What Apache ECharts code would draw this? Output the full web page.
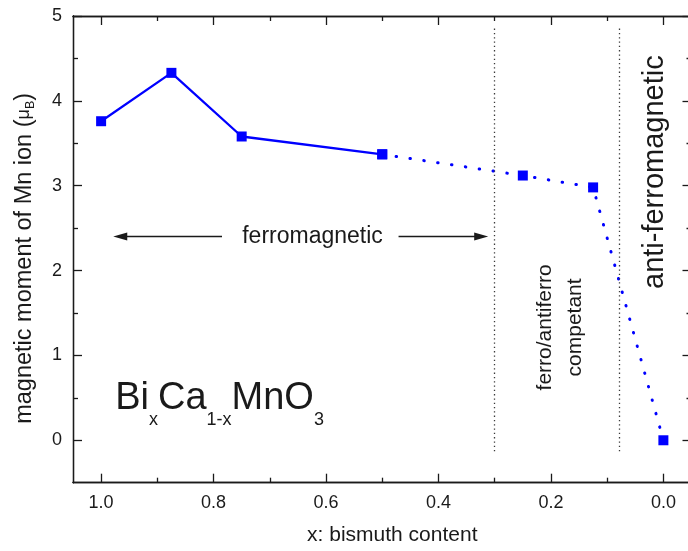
<!DOCTYPE html>
<html>
<head>
<meta charset="utf-8">
<script src="https://cdn.jsdelivr.net/npm/echarts@6/dist/echarts.min.js"></script>
<style>
  html, body { margin: 0; background: #fff; }
  #main { width: 688px; height: 551px; }
</style>
</head>
<body>
<div id="main"></div>
<script>
// Bi content x and Mn moment (mu_B)
const bismuth = [1.0, 0.875, 0.75, 0.5, 0.25, 0.125, 0.0];
const moment = [3.76, 4.33, 3.58, 3.37, 3.12, 2.98, 0.0];
const solidCount = 4; // first 4 points joined by a solid line, the rest dotted

const xTicks = [0, 0.2, 0.4, 0.6, 0.8, 1.0];
const xMinorTicks = [0.1, 0.3, 0.5, 0.7, 0.9];
const yTicks = [0, 1, 2, 3, 4, 5];
const yMinorTicks = [0.5, 1.5, 2.5, 3.5, 4.5];

// phase borders (dotted verticals) and their extent in y
const phaseBorders = [0.3, 0.078];
const borderSpan = [-0.13, 4.87];

// ferromagnetic arrows: [from, to] in x, at y = arrowY
const arrowY = 2.4;
const arrowLeft = [0.785, 0.966];
const arrowRight = [0.471, 0.324];

const FONT = "'Liberation Sans', Arial, sans-serif";
const INK = "#1a1a1a";
const BLUE = "#0000ff";

const pts = bismuth.map((x, i) => [x, moment[i]]);

function xAxis(position, ticks, len, labels) {
  return {
    type: "value",
    position: position,
    min: -0.05,
    max: 1.05,
    inverse: true,
    splitLine: { show: false },
    axisLine: { show: true, onZero: false, lineStyle: { color: INK, width: 1.3 } },
    axisTick: { show: true, inside: true, length: len, customValues: ticks, lineStyle: { color: INK, width: 1.3 } },
    axisLabel: labels
      ? { show: true, customValues: ticks, margin: 11, formatter: (v) => v.toFixed(1), fontFamily: FONT, fontSize: 18, color: INK }
      : { show: false },
  };
}

function yAxis(position, ticks, len, labels) {
  return {
    type: "value",
    position: position,
    min: -0.5,
    max: 5,
    splitLine: { show: false },
    axisLine: { show: true, onZero: false, lineStyle: { color: INK, width: 1.3 } },
    axisTick: { show: true, inside: true, length: len, customValues: ticks, lineStyle: { color: INK, width: 1.3 } },
    axisLabel: labels
      ? { show: true, customValues: ticks, margin: 11, fontFamily: FONT, fontSize: 18, color: INK }
      : { show: false },
  };
}

const xAxes = [
  xAxis("bottom", xTicks, 9, true),
  xAxis("bottom", xMinorTicks, 5, false),
  xAxis("top", xTicks, 9, false),
  xAxis("top", xMinorTicks, 5, false),
];
Object.assign(xAxes[0], {
  name: "x: bismuth content",
  nameLocation: "middle",
  nameGap: 42,
  nameTextStyle: { fontFamily: FONT, fontSize: 21, color: INK, padding: [0, 0, 0, 20] },
});

const yAxes = [
  yAxis("left", yTicks, 9, true),
  yAxis("left", yMinorTicks, 5, false),
  yAxis("right", yTicks, 9, false),
  yAxis("right", yMinorTicks, 5, false),
];
Object.assign(yAxes[0], {
  name: "{t|magnetic moment of Mn ion (}{m|μ}{s|B}{t|)}",
  nameLocation: "middle",
  nameGap: 36,
  nameTextStyle: {
    fontFamily: FONT,
    color: INK,
    padding: [0, 18, 0, 0],
    rich: {
      t: { fontFamily: FONT, fontSize: 23.5, color: INK, lineHeight: 25 },
      m: { fontFamily: FONT, fontSize: 18, color: INK, lineHeight: 25 },
      s: { fontFamily: FONT, fontSize: 12.5, color: INK, lineHeight: 13, verticalAlign: "bottom", padding: [8, 0, 0, 0] },
    },
  },
});

const chart = echarts.init(document.getElementById("main"));
chart.setOption({
  animation: false,
  backgroundColor: "#fff",
  grid: { left: 73, top: 16, right: -3.5, bottom: 68.3, outerBoundsMode: "none" },
  xAxis: xAxes,
  yAxis: yAxes,
  series: [
    {
      type: "line",
      data: pts.slice(0, solidCount),
      symbol: "rect",
      symbolSize: 10,
      itemStyle: { color: BLUE },
      lineStyle: { color: BLUE, width: 2.3 },
      z: 4,
      markLine: {
        silent: true,
        symbol: ["none", "path://M0,0L4,14L-4,14Z"],
        symbolSize: 14,
        symbolKeepAspect: true,
        label: { show: false },
        lineStyle: { color: INK, width: 1.3, type: "solid" },
        data: [
          [{ coord: [arrowLeft[0], arrowY] }, { coord: [arrowLeft[1], arrowY] }],
          [{ coord: [arrowRight[0], arrowY] }, { coord: [arrowRight[1], arrowY] }],
        ],
      },
    },
    {
      type: "line",
      data: pts.slice(solidCount - 1),
      symbol: "rect",
      symbolSize: 10,
      itemStyle: { color: BLUE },
      lineStyle: { color: BLUE, width: 3, type: [0.5, 13.5], cap: "round" },
      z: 3,
      markLine: {
        silent: true,
        symbol: ["none", "none"],
        label: { show: false },
        lineStyle: { color: "#3a3a3a", width: 1.3, type: [1.3, 3] },
        data: phaseBorders.map((b) => [
          { coord: [b, borderSpan[0]] },
          { coord: [b, borderSpan[1]] },
        ]),
      },
    },
  ],
});

// annotations anchored to data coordinates
const at = (x, y) => chart.convertToPixel({ xAxisIndex: 0, yAxisIndex: 0 }, [x, y]);
const pFerro = at(0.624, arrowY);
const pComp = at(0.184, 1.33);
const pAnti = at(0.015, 3.16);
const pFormula = at(0.975, 0.715);

chart.setOption({
  graphic: [
    {
      type: "text", x: pFerro[0], y: pFerro[1], silent: true,
      style: { text: "ferromagnetic", font: "23px " + FONT, fill: INK, align: "center", verticalAlign: "middle", textAlign: "center", textVerticalAlign: "middle" },
    },
    {
      type: "text", x: pComp[0], y: pComp[1], rotation: Math.PI / 2, silent: true,
      style: { text: "ferro/antiferro\ncompetant", font: "21px " + FONT, lineHeight: 30, fill: INK, align: "center", verticalAlign: "middle", textAlign: "center", textVerticalAlign: "middle" },
    },
    {
      type: "text", x: pAnti[0], y: pAnti[1], rotation: Math.PI / 2, silent: true,
      style: { text: "anti-ferromagnetic", font: "29px " + FONT, fill: INK, align: "center", verticalAlign: "middle", textAlign: "center", textVerticalAlign: "middle" },
    },
    {
      type: "text", x: pFormula[0], y: pFormula[1], silent: true,
      style: {
        text: "{b|Bi}{s|x}{b|Ca}{s|1-x}{b|MnO}{s|3}",
        fill: INK,
        align: "left", verticalAlign: "top", textAlign: "left", textVerticalAlign: "top",
        rich: {
          b: { fontFamily: FONT, fontSize: 38, lineHeight: 42, verticalAlign: "top", fill: INK, color: INK },
          s: { fontFamily: FONT, fontSize: 18, lineHeight: 18, verticalAlign: "top", padding: [31, 0, 0, 0], fill: INK, color: INK },
        },
      },
    },
  ],
});
</script>
</body>
</html>
